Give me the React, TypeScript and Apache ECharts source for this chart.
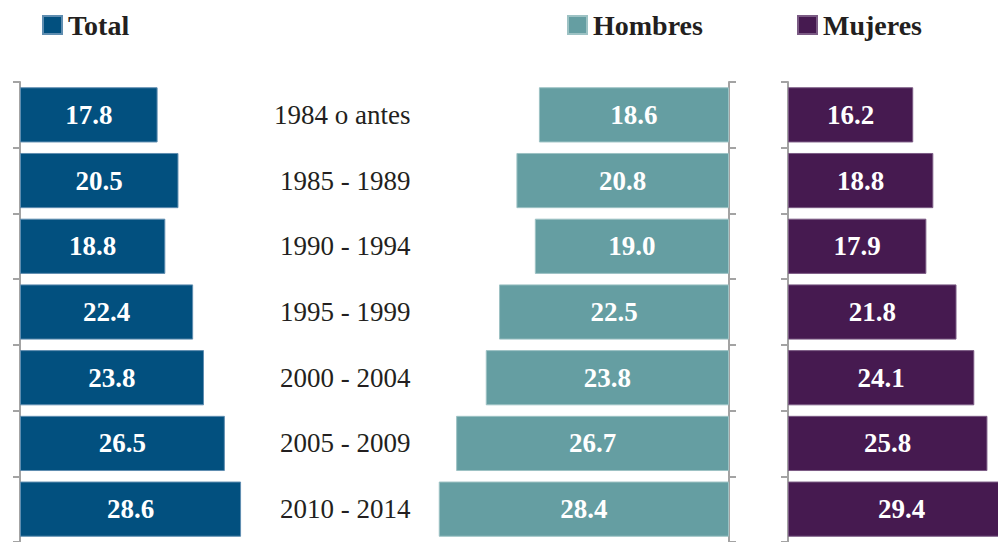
import React, { useEffect, useRef } from "react";
import * as echarts from "echarts";

const categories = [
  "1984 o antes",
  "1985 - 1989",
  "1990 - 1994",
  "1995 - 1999",
  "2000 - 2004",
  "2005 - 2009",
  "2010 - 2014",
];
const totalValues = [17.8, 20.5, 18.8, 22.4, 23.8, 26.5, 28.6];
const hombresValues = [18.6, 20.8, 19.0, 22.5, 23.8, 26.7, 28.4];
const mujeresValues = [16.2, 18.8, 17.9, 21.8, 24.1, 25.8, 29.4];
const seriesNames = ["Total", "Hombres", "Mujeres"];

const FONT = "Liberation Serif, serif";
const colors = ["#02507f", "#659ea2", "#461a50"];
const borders = ["#5f8db0", "#9dc2c4", "#7b5b84"];
const gray = "#a3a3a3";

export default function App() {
  const ref = useRef<HTMLDivElement>(null);

  useEffect(() => {
    if (!ref.current) return;
    const chart = echarts.init(ref.current, undefined, { renderer: "svg" });

    const axisLine = { show: true, lineStyle: { color: gray, width: 2 } };
    const axisTick = { show: true, length: 7, lineStyle: { color: gray, width: 2 } };

    const legendBase = (name: string, left: number) => ({
      data: [name],
      left,
      top: 11,
      padding: 0,
      icon: "rect",
      itemWidth: 19,
      itemHeight: 18,
      selectedMode: false,
      textStyle: {
        fontSize: 28,
        fontWeight: "bold",
        fontFamily: FONT,
        color: "#231f20",
        padding: [0, 0, 0, 1],
      },
    });

    const label = {
      show: true,
      position: "inside",
      color: "#ffffff",
      fontWeight: "bold",
      fontSize: 27,
      fontFamily: FONT,
      formatter: (p: any) => Number(p.value).toFixed(1),
    };

    const scaleTotal = 7.73;
    const scaleHombres = 10.22;
    const maxV = 30;

    const option: any = {
      animation: false,
      backgroundColor: "#ffffff",
      textStyle: { fontFamily: FONT },
      legend: [
        legendBase(seriesNames[0], 42),
        legendBase(seriesNames[1], 567),
        legendBase(seriesNames[2], 797),
      ],
      grid: [
        { left: 20, top: 82, width: scaleTotal * maxV, height: 463 },
        { left: 729 - scaleHombres * maxV, top: 82, width: scaleHombres * maxV, height: 463 },
        { left: 788, top: 82, width: scaleTotal * maxV, height: 463 },
      ],
      xAxis: [
        { gridIndex: 0, type: "value", min: 0, max: maxV, show: false },
        { gridIndex: 1, type: "value", min: 0, max: maxV, inverse: true, show: false },
        { gridIndex: 2, type: "value", min: 0, max: maxV, show: false },
      ],
      yAxis: [
        {
          gridIndex: 0,
          type: "category",
          data: categories,
          inverse: true,
          position: "left",
          axisLine,
          axisTick,
          axisLabel: { show: false },
        },
        {
          gridIndex: 1,
          type: "category",
          data: categories,
          inverse: true,
          position: "right",
          axisLine,
          axisTick,
          axisLabel: { show: false },
        },
        {
          gridIndex: 1,
          type: "category",
          data: categories,
          inverse: true,
          position: "left",
          axisLine: { show: false },
          axisTick: { show: false },
          axisLabel: {
            show: true,
            margin: 12,
            fontSize: 27,
            fontFamily: FONT,
            color: "#231f20",
          },
        },
        {
          gridIndex: 2,
          type: "category",
          data: categories,
          inverse: true,
          position: "left",
          axisLine,
          axisTick,
          axisLabel: { show: false },
        },
      ],
      series: [
        {
          name: seriesNames[0],
          type: "bar",
          xAxisIndex: 0,
          yAxisIndex: 0,
          data: totalValues,
          barCategoryGap: "16%",
          itemStyle: { color: colors[0], borderColor: borders[0], borderWidth: 1 },
          label,
        },
        {
          name: seriesNames[1],
          type: "bar",
          xAxisIndex: 1,
          yAxisIndex: 1,
          data: hombresValues,
          barCategoryGap: "16%",
          itemStyle: { color: colors[1], borderColor: borders[1], borderWidth: 1 },
          label,
        },
        {
          name: seriesNames[2],
          type: "bar",
          xAxisIndex: 2,
          yAxisIndex: 3,
          data: mujeresValues,
          barCategoryGap: "16%",
          itemStyle: { color: colors[2], borderColor: borders[2], borderWidth: 1 },
          label,
        },
      ],
    };

    chart.setOption(option);
    return () => chart.dispose();
  }, []);

  return (
    <div
      ref={ref}
      style={{ position: "fixed", left: 0, top: 0, width: 1030, height: 542 }}
    />
  );
}
